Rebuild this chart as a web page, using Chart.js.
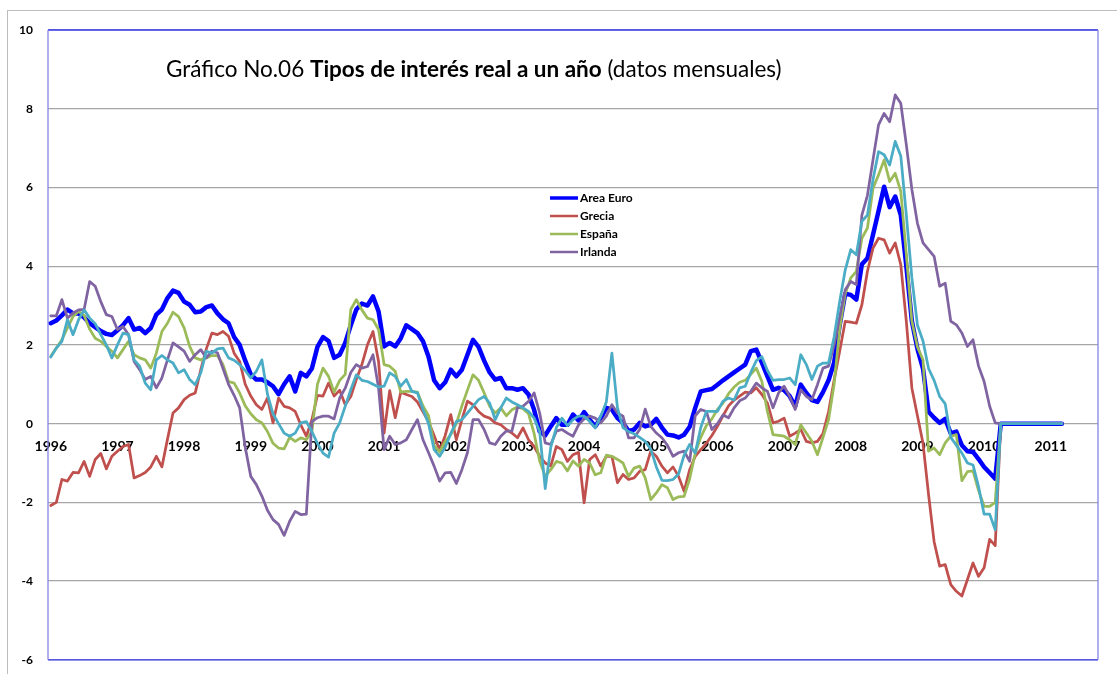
<!DOCTYPE html>
<html>
<head>
<meta charset="utf-8">
<title>Tipos de interés real a un año</title>
<script src="https://cdn.jsdelivr.net/npm/chart.js@4.4.1/dist/chart.umd.min.js"></script>
<style>
  html, body { margin: 0; padding: 0; background: #ffffff; }
  #wrap { position: relative; width: 1117px; height: 674px; overflow: hidden; }
  #frame { position: absolute; left: 7px; top: 10px; width: 1200px; height: 800px; border: 1px solid #bdbdbd; }
  #c { position: absolute; left: 0; top: 0; }
</style>
</head>
<body>
<div id="wrap">
  <div id="frame"></div>
  <canvas id="c" width="1117" height="682"></canvas>
</div>
<script>
// Year labels shown on the time axis (one category per month, Jan 1996 - Sep 2011)
const years = ['1996','1997','1998','1999','2000','2001','2002','2003','2004','2005','2006','2007','2008','2009','2010','2011'];
const monthCount = 189;

// Monthly real one-year interest rates (%), Jan 1996 onwards
const areaEuro = [
  2.55, 2.62, 2.75, 2.9, 2.8, 2.8, 2.7, 2.55, 2.45, 2.35, 2.28, 2.25,
  2.37, 2.5, 2.68, 2.39, 2.43, 2.3, 2.43, 2.77, 2.9, 3.19, 3.38, 3.32,
  3.1, 3.02, 2.83, 2.85, 2.96, 3.0, 2.8, 2.65, 2.55, 2.2, 2.0, 1.6,
  1.25, 1.12, 1.12, 1.05, 0.95, 0.75, 1.0, 1.2, 0.82, 1.29, 1.2, 1.4,
  1.95, 2.2, 2.1, 1.67, 1.75, 2.05, 2.5, 2.9, 3.05, 3.0, 3.23, 2.85,
  1.96, 2.05, 1.96, 2.17, 2.5, 2.4, 2.3, 2.09, 1.7, 1.1, 0.9, 1.05,
  1.37, 1.2, 1.37, 1.75, 2.13, 1.95, 1.6, 1.3, 1.12, 1.16, 0.9, 0.9,
  0.86, 0.9, 0.74, 0.35, -0.2, -0.3, -0.07, 0.14, -0.03, -0.03, 0.23, 0.08,
  0.29, 0.1, -0.07, 0.14, 0.4, 0.36, 0.14, 0.02, -0.19, -0.15, 0.02, -0.07,
  -0.03, 0.12, -0.1, -0.28, -0.3, -0.35, -0.28, -0.08, 0.4, 0.82, 0.85, 0.88,
  0.99, 1.1, 1.2, 1.3, 1.4, 1.5, 1.84, 1.88, 1.55, 1.2, 0.86, 0.91,
  0.85, 0.7, 0.44, 0.99, 0.78, 0.6, 0.55, 0.8, 1.1, 1.55, 2.5, 3.3,
  3.27, 3.15, 4.05, 4.2, 4.8, 5.4, 6.02, 5.5, 5.77, 5.3, 4.0, 2.6,
  1.9, 1.4, 0.3, 0.15, 0.02, 0.12, -0.25, -0.2, -0.55, -0.7, -0.72, -0.9,
  -1.1, -1.25, -1.4, 0, 0, 0, 0, 0, 0, 0, 0, 0,
  0, 0, 0
];
const grecia = [
  -2.08, -2.0, -1.42, -1.46, -1.24, -1.25, -0.96, -1.34, -0.91, -0.76, -1.15, -0.83,
  -0.7, -0.58, -0.53, -1.38, -1.32, -1.24, -1.1, -0.83, -1.1, -0.4, 0.27, 0.4,
  0.61, 0.72, 0.78, 1.37, 1.9, 2.3, 2.26, 2.34, 2.22, 1.79, 1.58, 1.0,
  0.7, 0.48, 0.36, 0.65, 0.02, 0.65, 0.44, 0.4, 0.31, -0.03, -0.32, 0.1,
  0.72, 0.7, 1.03, 0.7, 0.85, 0.48, 0.69, 1.12, 1.5, 2.0, 2.34, 1.58,
  -0.24, 0.84, 0.15, 0.8, 0.74, 0.69, 0.55, 0.3, 0.05, -0.3, -0.68, -0.3,
  0.23, -0.41, 0.1, 0.57, 0.48, 0.31, 0.19, 0.14, 0.02, -0.03, -0.15, -0.24,
  -0.36, -0.11, -0.41, -0.58, -0.83, -1.0, -1.08, -0.58, -0.66, -0.96, -0.79, -0.73,
  -2.01, -0.91, -0.79, -1.08, -0.83, -0.83, -1.5, -1.29, -1.42, -1.38, -1.21, -1.17,
  -0.7, -0.83, -1.08, -1.25, -1.1, -1.34, -1.72, -1.17, -0.83, -0.66, -0.5, -0.3,
  -0.07, 0.2, 0.45, 0.6, 0.7, 0.8, 0.78, 0.91, 0.74, 0.52, 0.02, 0.06,
  0.14, -0.32, -0.24, -0.15, -0.45, -0.49, -0.45, -0.25, 0.3, 1.1, 1.84, 2.6,
  2.58, 2.55, 3.02, 3.87, 4.46, 4.71, 4.67, 4.33, 4.59, 4.04, 2.6, 0.9,
  0.2, -0.5, -1.8, -3.0, -3.62, -3.58, -4.09, -4.26, -4.38, -3.96, -3.54, -3.88,
  -3.66, -2.94, -3.1, 0, 0, 0, 0, 0, 0, 0, 0, 0,
  0, 0, 0
];
const espana = [
  1.71, 1.92, 2.13, 2.43, 2.72, 2.85, 2.75, 2.4, 2.17, 2.09, 1.96, 1.84,
  1.67, 1.88, 2.09, 1.75, 1.67, 1.62, 1.41, 1.79, 2.34, 2.55, 2.83, 2.72,
  2.43, 1.96, 1.67, 1.62, 1.67, 1.73, 1.73, 1.5, 1.07, 1.03, 0.78, 0.45,
  0.25, 0.1, 0.02, -0.2, -0.5, -0.62, -0.64, -0.35, -0.45, -0.36, -0.41, -0.2,
  1.0, 1.41, 1.2, 0.8, 1.1, 1.25, 2.9, 3.15, 2.89, 2.68, 2.64, 2.39,
  1.5, 1.46, 1.33, 0.8, 0.82, 0.82, 0.8, 0.45, 0.2, -0.55, -0.72, -0.45,
  -0.28, 0.0, 0.45, 0.85, 1.24, 1.1, 0.78, 0.44, 0.27, 0.4, 0.2, 0.35,
  0.42, 0.38, 0.25, -0.25, -0.95, -1.34, -1.17, -0.96, -1.0, -1.2, -0.95, -1.08,
  -0.91, -1.0, -1.3, -1.25, -0.8, -0.83, -0.91, -1.0, -1.34, -1.13, -1.08, -1.38,
  -1.93, -1.76, -1.55, -1.63, -1.93, -1.86, -1.85, -1.4, -0.75, -0.35, -0.05, 0.12,
  0.36, 0.52, 0.76, 0.93, 1.05, 1.1, 1.25, 1.41, 1.07, 0.31, -0.28, -0.3,
  -0.32, -0.41, -0.53, -0.03, -0.24, -0.45, -0.79, -0.35, 0.1, 1.0, 2.4, 3.3,
  3.7, 3.87, 4.71, 4.97, 5.98, 6.32, 6.7, 6.15, 6.36, 5.9, 4.3, 2.6,
  1.95, 1.62, -0.7, -0.62, -0.79, -0.49, -0.32, -0.28, -1.45, -1.22, -1.2, -1.7,
  -2.1, -2.1, -2.0, 0, 0, 0, 0, 0, 0, 0, 0, 0,
  0, 0, 0
];
const irlanda = [
  2.74, 2.74, 3.15, 2.68, 2.81, 2.89, 2.9, 3.61, 3.49, 3.1, 2.77, 2.72,
  2.39, 2.47, 2.26, 1.58, 1.37, 1.12, 1.2, 0.91, 1.16, 1.62, 2.05, 1.95,
  1.84, 1.58, 1.75, 1.88, 1.67, 1.84, 1.8, 1.4, 1.0, 0.72, 0.4, -0.6,
  -1.34, -1.55, -1.84, -2.2, -2.44, -2.56, -2.84, -2.48, -2.23, -2.31, -2.3, 0.05,
  0.15, 0.19, 0.19, 0.12, 0.65, 0.9, 1.3, 1.5, 1.41, 1.45, 1.75, 0.91,
  -0.66, -0.32, -0.53, -0.49, -0.41, -0.15, 0.1, -0.41, -0.74, -1.08, -1.46, -1.25,
  -1.24, -1.52, -1.17, -0.74, 0.1, 0.1, -0.15, -0.49, -0.53, -0.32, -0.19, -0.19,
  0.4, 0.44, 0.57, 0.78, 0.27, -0.49, -0.53, -0.19, -0.15, -0.24, -0.32, -0.03,
  0.12, 0.19, 0.14, 0.02, 0.19, 0.48, 0.27, 0.19, -0.36, -0.36, -0.15, 0.37,
  -0.07, -0.24, -0.36, -0.55, -0.83, -0.74, -0.7, -0.96, 0.2, 0.36, 0.31, -0.15,
  0.0, 0.22, 0.15, 0.4, 0.58, 0.65, 0.82, 1.03, 0.91, 0.82, 0.4, 0.78,
  0.95, 0.69, 0.36, 0.86, 0.69, 0.61, 0.99, 1.41, 1.46, 2.0, 2.7, 3.4,
  3.61, 3.53, 5.3, 5.8, 6.7, 7.59, 7.88, 7.67, 8.35, 8.14, 7.08, 5.95,
  5.09, 4.59, 4.42, 4.25, 3.49, 3.57, 2.6, 2.51, 2.3, 1.96, 2.13, 1.46,
  1.07, 0.44, 0.02, 0, 0, 0, 0, 0, 0, 0, 0, 0,
  0, 0, 0
];
// Fifth series: drawn without a legend entry
const serie5 = [
  1.69, 1.92, 2.09, 2.64, 2.26, 2.64, 2.89, 2.68, 2.54, 2.26, 2.0, 1.67,
  2.0, 2.3, 2.26, 1.62, 1.46, 1.03, 0.86, 1.62, 1.73, 1.62, 1.54, 1.29,
  1.37, 1.12, 0.99, 1.29, 1.84, 1.79, 1.9, 1.92, 1.67, 1.61, 1.5, 1.35,
  1.16, 1.33, 1.62, 0.75, 0.25, 0.0, -0.24, -0.32, -0.24, 0.02, 0.05, -0.2,
  -0.5, -0.75, -0.85, -0.24, 0.02, 0.44, 0.86, 1.24, 1.1, 1.07, 1.0, 0.93,
  0.95, 1.29, 1.2, 0.95, 1.12, 0.82, 0.78, 0.36, 0.0, -0.66, -0.83, -0.6,
  -0.25, 0.05, 0.1, 0.27, 0.44, 0.61, 0.69, 0.52, 0.1, 0.4, 0.65, 0.55,
  0.48, 0.4, 0.31, 0.14, -0.2, -1.65, -0.6, -0.1, 0.14, -0.05, 0.1, 0.19,
  0.19, 0.06, -0.11, 0.19, 0.55, 1.79, 0.4, -0.1, -0.2, -0.26, -0.35, -0.45,
  -0.65, -1.1, -1.44, -1.45, -1.42, -1.28, -0.8, -0.53, -0.75, -0.1, 0.31, 0.31,
  0.31, 0.57, 0.65, 0.6, 0.91, 0.95, 1.3, 1.6, 1.7, 1.35, 1.1, 1.12,
  1.12, 1.16, 0.99, 1.75, 1.5, 1.12, 1.46, 1.54, 1.54, 2.2, 3.1, 3.9,
  4.42, 4.29, 5.14, 5.3, 6.2, 6.91, 6.83, 6.57, 7.17, 6.8, 5.3, 3.7,
  2.5, 2.1, 1.4, 1.1, 0.69, 0.5, -0.35, -0.55, -0.75, -1.0, -1.05, -1.6,
  -2.3, -2.3, -2.7, 0, 0, 0, 0, 0, 0, 0, 0, 0,
  0, 0, 0
];

// Y axis tick values
const yTicks = [-6, -4, -2, 0, 2, 4, 6, 8, 10];

// One category per month; January categories carry the year label
const categories = [];
years.forEach(y => {
  for (let m = 1; m <= 12; m++) {
    if (categories.length < monthCount) categories.push(y + '-' + String(m).padStart(2, '0'));
  }
});

const FONT = 'Lato, "Open Sans", "DejaVu Sans", sans-serif';

// Mixed-weight title, drawn inside the plot area
const titlePlugin = {
  id: 'titleText',
  afterDraw(chart) {
    const ctx = chart.ctx;
    const parts = [
      ['Gráfico No.06 ', 'normal'],
      ['Tipos de interés real a un año', 'bold'],
      [' (datos mensuales)', 'normal']
    ];
    const targetWidth = 616;
    let size = 20;
    const measure = s => parts.reduce((w, p) => {
      ctx.font = p[1] + ' ' + s + 'px ' + FONT;
      return w + ctx.measureText(p[0]).width;
    }, 0);
    size = size * targetWidth / measure(size);
    ctx.save();
    ctx.fillStyle = '#000';
    ctx.textBaseline = 'alphabetic';
    let x = 166;
    parts.forEach(p => {
      ctx.font = p[1] + ' ' + size + 'px ' + FONT;
      ctx.fillText(p[0], x, 77);
      x += ctx.measureText(p[0]).width;
    });
    ctx.restore();
  }
};

// Legend box inside the plot, four named series
const legendPlugin = {
  id: 'innerLegend',
  afterDraw(chart) {
    const ctx = chart.ctx;
    ctx.save();
    ctx.font = 'bold 12px ' + FONT;
    ctx.textBaseline = 'middle';
    let row = 0;
    chart.data.datasets.forEach(ds => {
      if (!ds.inLegend) return;
      const y = 198 + row * 18;
      ctx.strokeStyle = ds.borderColor;
      ctx.lineWidth = ds.borderWidth > 4 ? 3.5 : 2.5;
      ctx.beginPath();
      ctx.moveTo(550, y);
      ctx.lineTo(578, y);
      ctx.stroke();
      ctx.fillStyle = '#000';
      ctx.fillText(ds.label, 580, y + 0.5);
      row++;
    });
    ctx.restore();
  }
};

// Border around the plot area
const plotBorderPlugin = {
  id: 'plotBorder',
  beforeDatasetsDraw(chart) {
    const { left, right, top, bottom } = chart.chartArea;
    const ctx = chart.ctx;
    ctx.save();
    ctx.lineWidth = 1.3;
    ctx.strokeStyle = '#3c3cf0';
    ctx.beginPath();
    ctx.moveTo(left, top); ctx.lineTo(right, top);
    ctx.moveTo(left, bottom); ctx.lineTo(right, bottom);
    ctx.stroke();
    ctx.strokeStyle = '#8585e8';
    ctx.beginPath();
    ctx.moveTo(left, top); ctx.lineTo(left, bottom);
    ctx.moveTo(right, top); ctx.lineTo(right, bottom);
    ctx.stroke();
    ctx.restore();
  }
};

function series(label, data, color, width, order, inLegend) {
  return {
    label, data,
    borderColor: color,
    backgroundColor: color,
    borderWidth: width,
    pointRadius: 0,
    pointHoverRadius: 0,
    tension: 0,
    fill: false,
    borderJoinStyle: 'round',
    borderCapStyle: 'round',
    order,
    inLegend
  };
}

new Chart(document.getElementById('c'), {
  type: 'line',
  data: {
    labels: categories,
    datasets: [
      series('Area Euro', areaEuro, '#0000ff', 4.5, 5, true),
      series('Grecia', grecia, '#c0504d', 2.75, 4, true),
      series('España', espana, '#9bbb59', 2.75, 3, true),
      series('Irlanda', irlanda, '#8064a2', 2.75, 2, true),
      series('Serie 5', serie5, '#4bacc6', 2.75, 1, false)
    ]
  },
  options: {
    responsive: false,
    animation: false,
    devicePixelRatio: 1,
    layout: { padding: { left: 8, right: 19, top: 30, bottom: 6 } },
    plugins: {
      legend: { display: false },
      title: { display: false },
      tooltip: { enabled: false }
    },
    scales: {
      x: {
        type: 'category',
        position: { y: 0 },
        offset: true,
        grid: { display: false, drawTicks: false },
        border: { display: false },
        ticks: {
          autoSkip: false,
          maxRotation: 0,
          minRotation: 0,
          padding: 14,
          color: '#000',
          font: { family: FONT, size: 14, weight: 'bold' },
          callback(value, index) {
            const c = categories[index];
            return c && c.endsWith('-01') ? c.slice(0, 4) : '';
          }
        }
      },
      y: {
        min: yTicks[0],
        max: yTicks[yTicks.length - 1],
        afterFit(scale) { scale.width = 40; },
        afterBuildTicks(scale) { scale.ticks = yTicks.map(v => ({ value: v })); },
        grid: { color: '#a6a6a6', lineWidth: 1.3, drawTicks: false },
        border: { display: false },
        ticks: {
          padding: 15,
          color: '#000',
          font: { family: FONT, size: 12, weight: 'bold' }
        }
      }
    }
  },
  plugins: [plotBorderPlugin, titlePlugin, legendPlugin]
});
</script>
</body>
</html>
